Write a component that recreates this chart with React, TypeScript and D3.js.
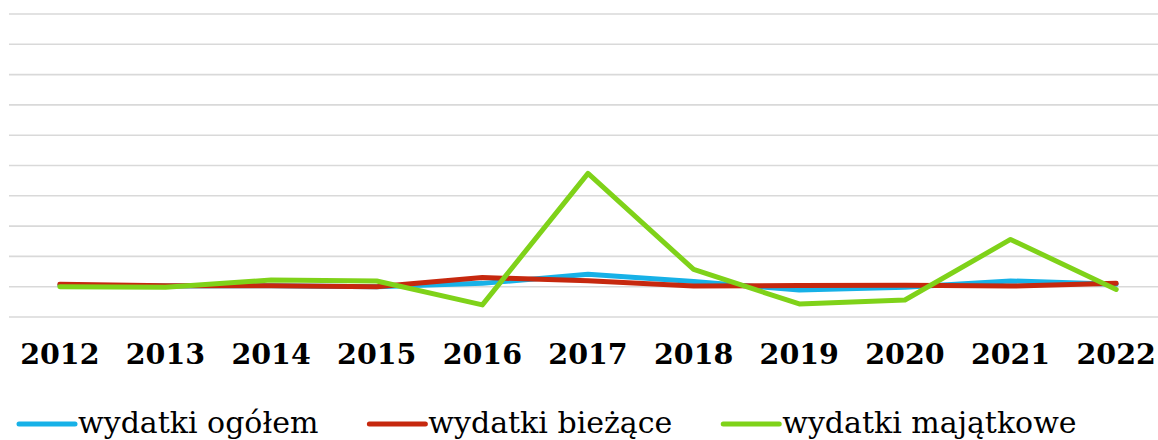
import { useEffect, useRef } from "react";
import * as d3 from "d3";

const years = ["2012", "2013", "2014", "2015", "2016", "2017", "2018", "2019", "2020", "2021", "2022"];
const ogolem = [0.05, 0.02, 0.03, 0.0, 0.11, 0.41, 0.17, -0.11, -0.02, 0.19, 0.08];
const biezace = [0.08, 0.03, 0.03, 0.0, 0.3, 0.2, 0.02, 0.04, 0.05, 0.02, 0.11];
const majatkowe = [0.0, -0.02, 0.22, 0.19, -0.6, 3.74, 0.57, -0.57, -0.44, 1.56, -0.09];
const gridTicks = [-1, 0, 1, 2, 3, 4, 5, 6, 7, 8, 9];
const seriesNames = ["wydatki ogółem", "wydatki bieżące", "wydatki majątkowe"];
const seriesColors = ["#17b1e7", "#c6280e", "#7fd219"];

export default function App() {
  const ref = useRef<SVGSVGElement>(null);

  useEffect(() => {
    document.body.style.margin = "0";
    const svg = d3.select(ref.current);
    svg.selectAll("*").remove();

    const width = 1158;
    const x = d3.scaleBand().domain(years).range([7, 1169]);
    const y = d3.scaleLinear().domain([-1, 9]).range([317, 14]);

    // gridlines
    svg
      .append("g")
      .selectAll("line")
      .data(gridTicks)
      .enter()
      .append("line")
      .attr("x1", 9)
      .attr("x2", width)
      .attr("y1", (d) => y(d))
      .attr("y2", (d) => y(d))
      .attr("stroke", "#d9d9d9")
      .attr("stroke-width", 1.6);

    // year labels
    svg
      .append("g")
      .selectAll("text")
      .data(years)
      .enter()
      .append("text")
      .attr("x", (d) => x(d)! + x.bandwidth() / 2)
      .attr("y", 364)
      .attr("text-anchor", "middle")
      .style("font-family", "'DejaVu Serif', serif")
      .style("font-weight", "bold")
      .style("font-size", "28.5px")
      .attr("fill", "#000")
      .text((d) => d);

    const series = [ogolem, biezace, majatkowe];
    const line = d3
      .line<number>()
      .x((_, i) => x(years[i])! + x.bandwidth() / 2)
      .y((d) => y(d));

    series.forEach((s, i) => {
      svg
        .append("path")
        .datum(s)
        .attr("d", line)
        .attr("fill", "none")
        .attr("stroke", seriesColors[i])
        .attr("stroke-width", 5)
        .attr("stroke-linejoin", "round")
        .attr("stroke-linecap", "round");
    });

    // legend
    const legend = svg.append("g");
    let lx = 19;
    seriesNames.forEach((name, i) => {
      legend
        .append("line")
        .attr("x1", lx)
        .attr("x2", lx + 56)
        .attr("y1", 424)
        .attr("y2", 424)
        .attr("stroke", seriesColors[i])
        .attr("stroke-width", 5)
        .attr("stroke-linecap", "round");
      const t = legend
        .append("text")
        .attr("x", lx + 59)
        .attr("y", 433)
        .style("font-family", "'DejaVu Serif', serif")
        .style("font-weight", "400")
        .style("font-size", "30px")
        .attr("fill", "#000")
        .text(name);
      const w = (t.node() as SVGTextElement).getComputedTextLength();
      lx += 59 + w + 51;
    });
  }, []);

  return <svg ref={ref} width={1158} height={440} style={{ display: "block" }} />;
}
